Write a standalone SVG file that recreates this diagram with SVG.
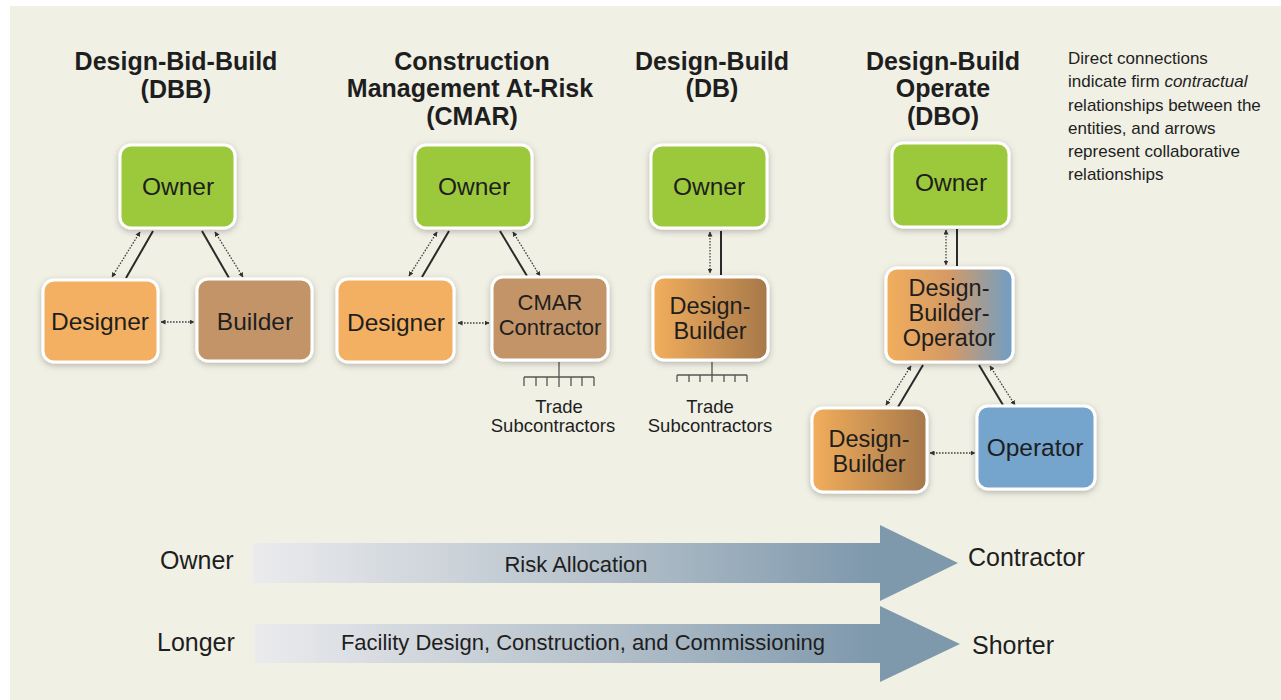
<svg xmlns="http://www.w3.org/2000/svg" width="1281" height="700" viewBox="0 0 1281 700">
<defs>
<style>
.t{font-family:"Liberation Sans",Arial,sans-serif;fill:#1e1e1e}
.title{font-size:25px;font-weight:bold;text-anchor:middle}
.nt{font-size:24.5px;text-anchor:middle}
.nm{font-size:23.5px;text-anchor:middle}
.ns{font-size:22px;text-anchor:middle}
.note{font-size:17px}
.sub{font-size:18.5px;text-anchor:middle}
.big{font-size:25px}
.mid{font-size:22px;text-anchor:middle}
.node{stroke:#ffffff;stroke-width:3;filter:url(#sh)}
.solid{stroke:#2a2a2a;stroke-width:2;fill:none}
.dot{stroke:#444;stroke-width:1.3;stroke-dasharray:1.6 1.4;fill:none;marker-start:url(#ah);marker-end:url(#ah)}
.comb{stroke:#555;stroke-width:1.3;fill:none}
</style>
<filter id="sh" x="-20%" y="-20%" width="140%" height="140%">
<feDropShadow dx="0" dy="2" stdDeviation="3" flood-color="#000" flood-opacity="0.25"/>
</filter>
<marker id="ah" viewBox="0 0 10 10" refX="9" refY="5" markerWidth="5" markerHeight="5" orient="auto-start-reverse" markerUnits="userSpaceOnUse">
<path d="M0,0 L10,5 L0,10 z" fill="#333"/>
</marker>
<linearGradient id="gDB" x1="0" y1="0" x2="1" y2="0">
<stop offset="0" stop-color="#f2ae5c"/>
<stop offset="1" stop-color="#a6784a"/>
</linearGradient>
<linearGradient id="gDBO" x1="0" y1="0" x2="1" y2="0">
<stop offset="0" stop-color="#f2ae5c"/>
<stop offset="0.5" stop-color="#d49a66"/>
<stop offset="1" stop-color="#6f9ec6"/>
</linearGradient>
<linearGradient id="gArr" gradientUnits="userSpaceOnUse" x1="253" y1="0" x2="960" y2="0">
<stop offset="0" stop-color="#ebebed"/>
<stop offset="0.5" stop-color="#b4c0ca"/>
<stop offset="0.88" stop-color="#7e98ac"/>
<stop offset="1" stop-color="#7e98ac"/>
</linearGradient>
</defs>
<rect x="0" y="0" width="1281" height="700" fill="#ffffff"/>
<rect x="10" y="6" width="1271" height="694" fill="#f0f0e5"/>

<g id="titles" class="t">
<text class="title" x="176" y="70">Design-Bid-Build</text>
<text class="title" x="176" y="98">(DBB)</text>
<text class="title" x="472" y="70">Construction</text>
<text class="title" x="470" y="97">Management At-Risk</text>
<text class="title" x="472" y="125">(CMAR)</text>
<text class="title" x="712" y="70">Design-Build</text>
<text class="title" x="712" y="97">(DB)</text>
<text class="title" x="943" y="70">Design-Build</text>
<text class="title" x="943" y="97">Operate</text>
<text class="title" x="943" y="125">(DBO)</text>
</g>

<g id="note" class="t note">
<text x="1068" y="64">Direct connections</text>
<text x="1068" y="87">indicate firm <tspan font-style="italic">contractual</tspan></text>
<text x="1068" y="111">relationships between the</text>
<text x="1068" y="134">entities, and arrows</text>
<text x="1068" y="157">represent collaborative</text>
<text x="1068" y="180">relationships</text>
</g>

<g id="connectors">
<!-- DBB -->
<line class="dot" x1="140" y1="232" x2="112" y2="277"/>
<line class="solid" x1="153" y1="231" x2="126" y2="278"/>
<line class="solid" x1="202" y1="231" x2="229" y2="278"/>
<line class="dot" x1="215" y1="232" x2="243" y2="277"/>
<line class="dot" x1="161" y1="322" x2="194" y2="322"/>
<!-- CMAR -->
<line class="dot" x1="437" y1="232" x2="409" y2="276"/>
<line class="solid" x1="449" y1="231" x2="422" y2="277"/>
<line class="solid" x1="500" y1="231" x2="527" y2="276"/>
<line class="dot" x1="513" y1="232" x2="540" y2="276"/>
<line class="dot" x1="458" y1="323" x2="489" y2="323"/>
<path class="comb" d="M559,362 V387 M524,377 H594 M524,377 V386 M536,377 V386 M547,377 V386 M571,377 V386 M582,377 V386 M594,377 V386"/>
<!-- DB -->
<line class="dot" x1="710" y1="232" x2="710" y2="273"/>
<line class="solid" x1="721" y1="231" x2="721" y2="275"/>
<path class="comb" d="M712,362 V382 M677,375 H747 M677,375 V382 M689,375 V382 M700,375 V382 M724,375 V382 M735,375 V382 M747,375 V382"/>
<!-- DBO -->
<line class="dot" x1="946" y1="230" x2="946" y2="265"/>
<line class="solid" x1="957" y1="229" x2="957" y2="266"/>
<line class="dot" x1="911" y1="366" x2="886" y2="405"/>
<line class="solid" x1="923" y1="365" x2="898" y2="407"/>
<line class="solid" x1="979" y1="365" x2="1003" y2="405"/>
<line class="dot" x1="990" y1="366" x2="1015" y2="405"/>
<line class="dot" x1="930" y1="453" x2="975" y2="453"/>
</g>

<g id="dbb-owner"><rect class="node" x="120" y="145" width="115" height="83" rx="11" fill="#9cc93b"/><text class="t nt" x="178" y="195">Owner</text></g>
<g id="dbb-designer"><rect class="node" x="43" y="280" width="115" height="82" rx="11" fill="#f3b062"/><text class="t nt" x="100" y="330">Designer</text></g>
<g id="dbb-builder"><rect class="node" x="197" y="279" width="115" height="82" rx="11" fill="#c39467"/><text class="t nt" x="255" y="330">Builder</text></g>

<g id="cmar-owner"><rect class="node" x="415" y="145" width="117" height="83" rx="11" fill="#9cc93b"/><text class="t nt" x="474" y="195">Owner</text></g>
<g id="cmar-designer"><rect class="node" x="337" y="279" width="117" height="83" rx="11" fill="#f3b062"/><text class="t nt" x="396" y="331">Designer</text></g>
<g id="cmar-contractor"><rect class="node" x="492" y="277" width="116" height="83" rx="11" fill="#c39467"/><text class="t ns" x="550" y="310">CMAR</text><text class="t ns" x="550" y="335">Contractor</text></g>
<g id="cmar-trade" class="t sub"><text x="559" y="413">Trade</text><text x="553" y="432">Subcontractors</text></g>

<g id="db-owner"><rect class="node" x="651" y="145" width="116" height="83" rx="11" fill="#9cc93b"/><text class="t nt" x="709" y="195">Owner</text></g>
<g id="db-designbuilder"><rect class="node" x="653" y="277" width="115" height="83" rx="11" fill="url(#gDB)"/><text class="t nm" x="710" y="314">Design-</text><text class="t nm" x="710" y="339">Builder</text></g>
<g id="db-trade" class="t sub"><text x="710" y="413">Trade</text><text x="710" y="432">Subcontractors</text></g>

<g id="dbo-owner"><rect class="node" x="892" y="143" width="117" height="84" rx="11" fill="#9cc93b"/><text class="t nt" x="951" y="191">Owner</text></g>
<g id="dbo-dbo"><rect class="node" x="886" y="268" width="127" height="94" rx="11" fill="url(#gDBO)"/><text class="t nm" x="949" y="296">Design-</text><text class="t nm" x="949" y="321">Builder-</text><text class="t nm" x="949" y="346">Operator</text></g>
<g id="dbo-designbuilder"><rect class="node" x="812" y="408" width="115" height="84" rx="11" fill="url(#gDB)"/><text class="t nm" x="869" y="447">Design-</text><text class="t nm" x="869" y="472">Builder</text></g>
<g id="dbo-operator"><rect class="node" x="977" y="406" width="118" height="83" rx="11" fill="#74a4cc"/><text class="t nt" x="1035" y="456">Operator</text></g>

<g id="risk-arrow">
<path d="M253,543 H880 V525 L958,563 L880,601 V583 H253 Z" fill="url(#gArr)"/>
<text class="t big" x="160" y="569">Owner</text>
<text class="t mid" x="576" y="572">Risk Allocation</text>
<text class="t big" x="968" y="566">Contractor</text>
</g>
<g id="time-arrow">
<path d="M255,624 H880 V606 L960,644 L880,682 V663 H255 Z" fill="url(#gArr)"/>
<text class="t big" x="157" y="651">Longer</text>
<text class="t mid" x="583" y="650">Facility Design, Construction, and Commissioning</text>
<text class="t big" x="972" y="654">Shorter</text>
</g>
</svg>
